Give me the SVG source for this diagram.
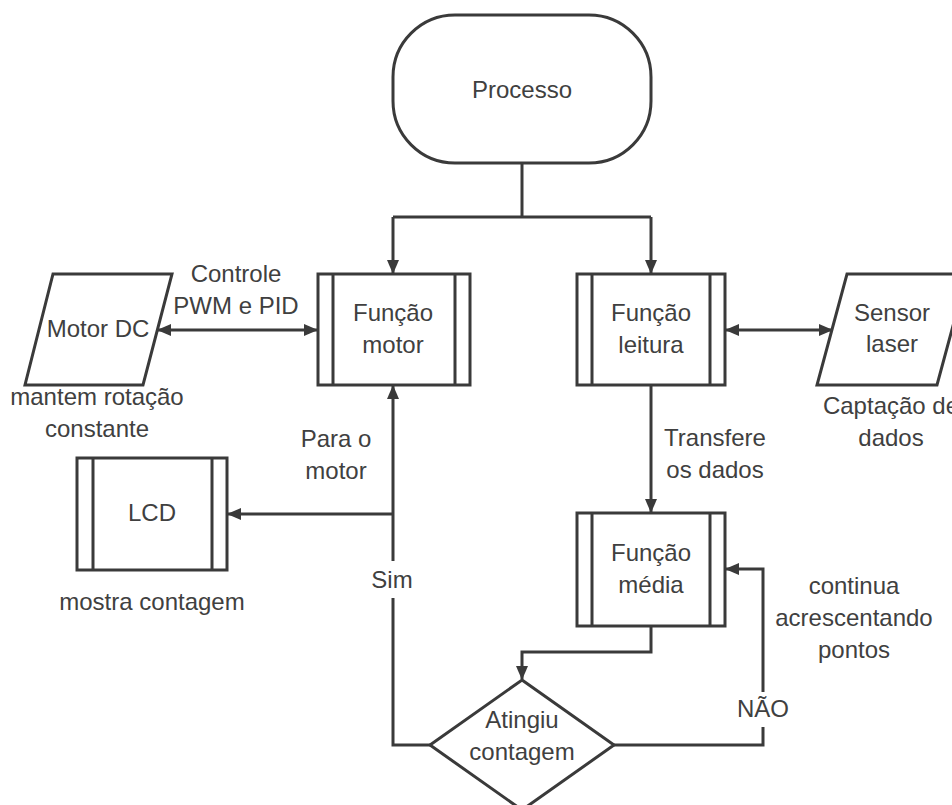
<svg xmlns="http://www.w3.org/2000/svg" width="952" height="805" viewBox="0 0 952 805">
  <style>
    .shape { fill: #ffffff; stroke: #3a3a3a; stroke-width: 3; }
    .bar { fill: none; stroke: #3a3a3a; stroke-width: 3; }
    .wire { fill: none; stroke: #3a3a3a; stroke-width: 3; }
    .txt { font-family: "Liberation Sans", Arial, sans-serif; font-size: 24px; fill: #404040; text-anchor: middle; }
    .gap { fill: #ffffff; }
  </style>
  <defs>
    <marker id="arrow" markerUnits="userSpaceOnUse" markerWidth="14" markerHeight="12" refX="13" refY="6" orient="auto-start-reverse">
      <path d="M0,0 L14,6 L0,12 z" fill="#3a3a3a"/>
    </marker>
  </defs>
  <rect width="952" height="805" fill="#ffffff"/>

  <!-- connectors -->
  <g id="connectors">
    <path class="wire" d="M522 163 V217"/>
    <path class="wire" d="M393 217 H651"/>
    <path class="wire" d="M393 217 V273" marker-end="url(#arrow)"/>
    <path class="wire" d="M651 217 V273" marker-end="url(#arrow)"/>
    <path class="wire" d="M158 330 H317" marker-start="url(#arrow)" marker-end="url(#arrow)"/>
    <path class="wire" d="M726 330 H832" marker-start="url(#arrow)" marker-end="url(#arrow)"/>
    <path class="wire" d="M651 385 V512" marker-end="url(#arrow)"/>
    <path class="wire" d="M651 626 V652 H522 V679" marker-end="url(#arrow)"/>
    <path class="wire" d="M614 745 H763 V569 H726" marker-end="url(#arrow)"/>
    <path class="wire" d="M430 745 H393 V386" marker-end="url(#arrow)"/>
    <path class="wire" d="M393 514 H228" marker-end="url(#arrow)"/>
    <!-- breaks in the lines behind the branch labels -->
    <rect class="gap" x="370" y="561" width="46" height="37"/>
    <rect class="gap" x="738" y="692" width="50" height="35"/>
    <text class="txt" x="236" y="282">Controle</text>
    <text class="txt" x="236" y="314">PWM e PID</text>
    <text class="txt" x="336" y="447">Para o</text>
    <text class="txt" x="336" y="479">motor</text>
    <text class="txt" x="392" y="588">Sim</text>
    <text class="txt" x="715" y="446">Transfere</text>
    <text class="txt" x="715" y="478">os dados</text>
    <text class="txt" x="763" y="717">NÃO</text>
  </g>

  <g id="processo">
    <rect class="shape" x="393" y="15" width="258" height="148" rx="62" ry="62"/>
    <text class="txt" x="522" y="98">Processo</text>
  </g>

  <g id="motor-dc">
    <polygon class="shape" points="53,274 172,274 143,385 25,385"/>
    <text class="txt" x="98" y="337">Motor DC</text>
    <text class="txt" x="97" y="405">mantem rotação</text>
    <text class="txt" x="97" y="437">constante</text>
  </g>

  <g id="funcao-motor">
    <rect class="shape" x="318" y="274" width="152" height="111"/>
    <path class="bar" d="M333 274 V385 M455 274 V385"/>
    <text class="txt" x="393" y="321">Função</text>
    <text class="txt" x="393" y="353">motor</text>
  </g>

  <g id="funcao-leitura">
    <rect class="shape" x="577" y="274" width="148" height="111"/>
    <path class="bar" d="M592 274 V385 M710 274 V385"/>
    <text class="txt" x="651" y="321">Função</text>
    <text class="txt" x="651" y="353">leitura</text>
  </g>

  <g id="sensor-laser">
    <polygon class="shape" points="847,274 967,274 937,385 817,385"/>
    <text class="txt" x="892" y="321">Sensor</text>
    <text class="txt" x="892" y="352">laser</text>
    <text class="txt" x="891" y="414">Captação de</text>
    <text class="txt" x="891" y="446">dados</text>
  </g>

  <g id="lcd">
    <rect class="shape" x="77" y="458" width="150" height="112"/>
    <path class="bar" d="M93 458 V570 M212 458 V570"/>
    <text class="txt" x="152" y="521">LCD</text>
    <text class="txt" x="152" y="610">mostra contagem</text>
  </g>

  <g id="funcao-media">
    <rect class="shape" x="577" y="513" width="148" height="113"/>
    <path class="bar" d="M592 513 V626 M710 513 V626"/>
    <text class="txt" x="651" y="561">Função</text>
    <text class="txt" x="651" y="593">média</text>
  </g>

  <g id="continua">
    <text class="txt" x="854" y="594">continua</text>
    <text class="txt" x="854" y="626">acrescentando</text>
    <text class="txt" x="854" y="658">pontos</text>
  </g>

  <g id="atingiu-contagem">
    <polygon class="shape" points="522,680 614,745 522,810 430,745"/>
    <text class="txt" x="522" y="728">Atingiu</text>
    <text class="txt" x="522" y="760">contagem</text>
  </g>
</svg>
